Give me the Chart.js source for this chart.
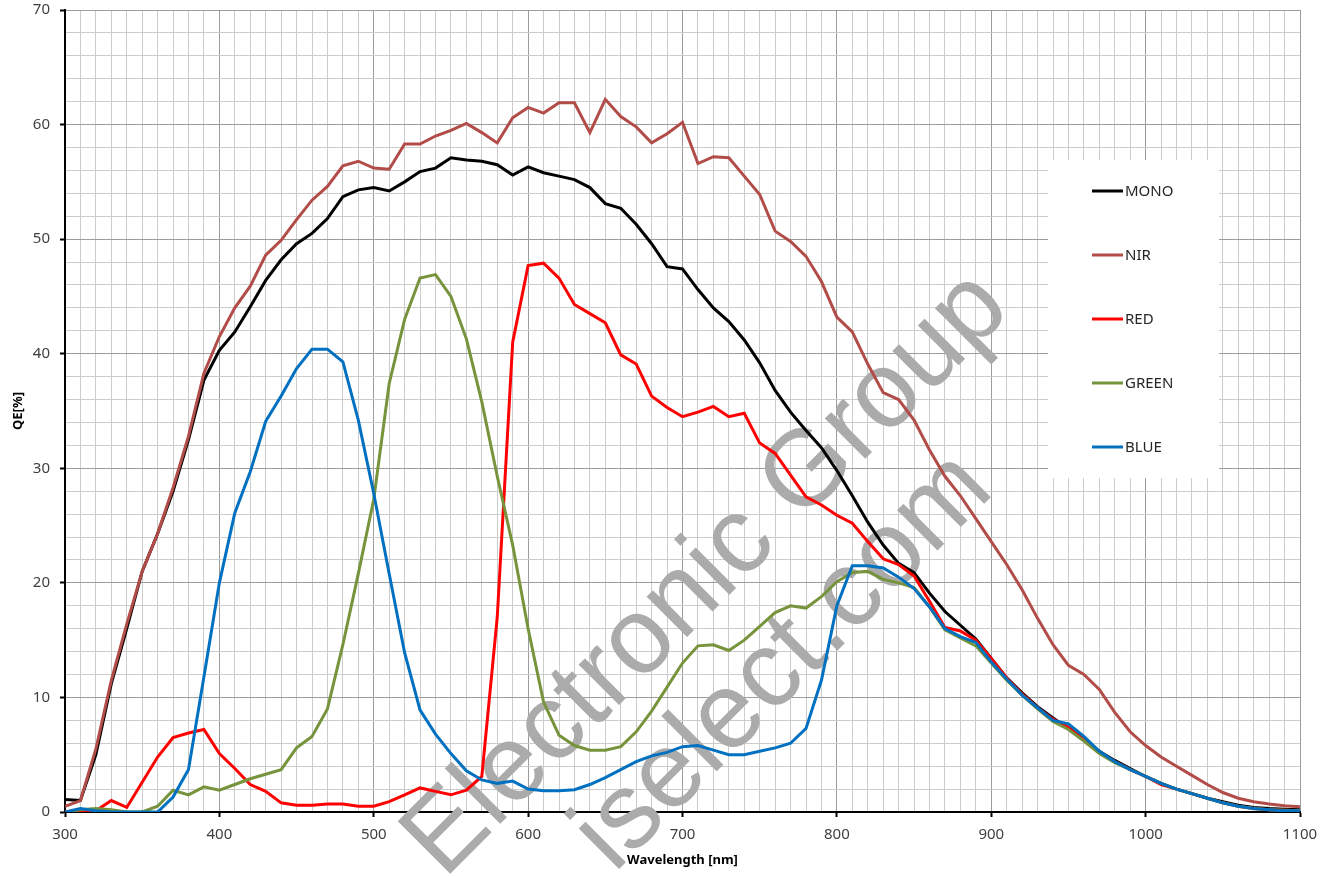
<!DOCTYPE html>
<html>
<head>
<meta charset="utf-8">
<script src="https://cdn.jsdelivr.net/npm/chart.js@4.4.0/dist/chart.umd.min.js"></script>
<style>
  body { margin: 0; background: #fff; }
  #wrap { width: 1338px; height: 876px; }
</style>
</head>
<body>
<div id="wrap"><canvas id="qe-chart" width="1338" height="876"></canvas></div>
<script>
// wavelength in nm, one point every 10 nm
const wavelengths = [
  300, 310, 320, 330, 340, 350, 360, 370, 380, 390,
  400, 410, 420, 430, 440, 450, 460, 470, 480, 490,
  500, 510, 520, 530, 540, 550, 560, 570, 580, 590,
  600, 610, 620, 630, 640, 650, 660, 670, 680, 690,
  700, 710, 720, 730, 740, 750, 760, 770, 780, 790,
  800, 810, 820, 830, 840, 850, 860, 870, 880, 890,
  900, 910, 920, 930, 940, 950, 960, 970, 980, 990,
  1000, 1010, 1020, 1030, 1040, 1050, 1060, 1070, 1080, 1090, 1100
];

const mono = [
  1.1, 1.0, 5.0, 11.2, 16.0, 21.0, 24.3, 28.0, 32.5, 37.7,
  40.3, 41.9, 44.1, 46.4, 48.2, 49.6, 50.5, 51.8, 53.7, 54.3,
  54.5, 54.2, 55.0, 55.9, 56.2, 57.1, 56.9, 56.8, 56.5, 55.6,
  56.3, 55.8, 55.5, 55.2, 54.5, 53.1, 52.7, 51.3, 49.6, 47.6,
  47.4, 45.6, 44.0, 42.8, 41.2, 39.2, 36.8, 34.9, 33.3, 31.8,
  29.8, 27.6, 25.3, 23.3, 21.7, 20.9, 19.1, 17.5, 16.3, 15.1,
  13.4, 11.7, 10.4, 9.2, 8.2, 7.3, 6.3, 5.3, 4.5, 3.8,
  3.1, 2.5, 2.0, 1.6, 1.2, 0.9, 0.6, 0.4, 0.3, 0.25, 0.2
];

const nir = [
  0.5, 1.0, 5.5, 11.5, 16.4, 21.0, 24.3, 28.3, 32.8, 38.3,
  41.5, 44.0, 45.9, 48.6, 49.9, 51.7, 53.4, 54.6, 56.4, 56.8,
  56.2, 56.1, 58.3, 58.3, 59.0, 59.5, 60.1, 59.3, 58.4, 60.6,
  61.5, 61.0, 61.9, 61.9, 59.3, 62.2, 60.7, 59.8, 58.4, 59.2,
  60.2, 56.6, 57.2, 57.1, 55.5, 53.9, 50.7, 49.8, 48.5, 46.3,
  43.2, 41.9, 39.1, 36.6, 36.0, 34.2, 31.6, 29.3, 27.6, 25.6,
  23.6, 21.6, 19.4, 16.9, 14.6, 12.8, 12.0, 10.7, 8.7, 7.0,
  5.8, 4.8, 4.0, 3.2, 2.4, 1.7, 1.2, 0.9, 0.7, 0.55, 0.45
];

const red = [
  0, 0, 0.1, 1.0, 0.4, 2.6, 4.8, 6.5, 6.9, 7.2,
  5.1, 3.8, 2.4, 1.8, 0.8, 0.6, 0.6, 0.7, 0.7, 0.5,
  0.5, 0.9, 1.5, 2.1, 1.8, 1.5, 1.9, 3.1, 17.0, 41.0,
  47.7, 47.9, 46.6, 44.3, 43.5, 42.7, 39.9, 39.1, 36.3, 35.3,
  34.5, 34.9, 35.4, 34.5, 34.8, 32.2, 31.3, 29.4, 27.5, 26.8,
  25.9, 25.2, 23.6, 22.1, 21.6, 20.6, 18.4, 16.1, 15.8, 15.0,
  13.4, 11.7, 10.3, 9.1, 8.1, 7.4, 6.4, 5.2, 4.4, 3.7,
  3.1, 2.4, 2.0, 1.6, 1.2, 0.8, 0.5, 0.3, 0.2, 0.15, 0.1
];

const green = [
  0, 0.2, 0.3, 0.2, 0, 0, 0.5, 1.9, 1.5, 2.2,
  1.9, 2.4, 2.9, 3.3, 3.7, 5.6, 6.6, 9.0, 14.6, 20.8,
  27.3, 37.4, 43.0, 46.6, 46.9, 45.0, 41.3, 35.8, 29.3, 23.3,
  16.0, 9.6, 6.7, 5.8, 5.4, 5.4, 5.7, 7.0, 8.8, 10.9,
  13.0, 14.5, 14.6, 14.1, 15.0, 16.2, 17.4, 18.0, 17.8, 18.8,
  20.1, 20.9, 21.0, 20.3, 20.0, 19.6, 17.9, 15.9, 15.2, 14.5,
  13.0, 11.5, 10.2, 9.0, 7.9, 7.2, 6.2, 5.1, 4.3, 3.7,
  3.1, 2.5, 2.0, 1.6, 1.2, 0.8, 0.5, 0.3, 0.2, 0.15, 0.1
];

const blue = [
  0, 0.3, 0.1, 0, 0, 0, 0, 1.3, 3.7, 11.8,
  20.0, 26.1, 29.7, 34.1, 36.3, 38.7, 40.4, 40.4, 39.3, 34.2,
  27.8, 20.8, 13.9, 8.9, 6.8, 5.1, 3.6, 2.8, 2.5, 2.7,
  2.0, 1.85, 1.85, 1.95, 2.4, 3.0, 3.7, 4.4, 4.9, 5.2,
  5.7, 5.8, 5.4, 5.0, 5.0, 5.3, 5.6, 6.0, 7.3, 11.5,
  18.0, 21.5, 21.5, 21.3, 20.5, 19.5, 17.9, 16.0, 15.3, 14.8,
  13.1, 11.6, 10.2, 9.1, 8.0, 7.7, 6.6, 5.3, 4.4, 3.7,
  3.1, 2.5, 2.0, 1.6, 1.2, 0.8, 0.5, 0.3, 0.2, 0.1, 0.1
];

const seriesNames = ["MONO", "NIR", "RED", "GREEN", "BLUE"];
const seriesValues = [mono, nir, red, green, blue];
const seriesColors = ["#000000", "#B24C48", "#FF0000", "#77933C", "#0070C0"];

const xMin = 300, xMax = 1100, xStep = 10, xLabelStep = 100;
const yMin = 0, yMax = 70, yStep = 2, yLabelStep = 10;

const majorGrid = "#9c9c9c";
const minorGrid = "#cccccc";
const tickFont = { family: "'Noto Sans', sans-serif", size: 15 };
const titleFont = { family: "'Noto Sans', sans-serif", size: 13, weight: "bold" };

function isMajor(value, step) {
  return Math.abs(value / step - Math.round(value / step)) < 1e-6;
}

// legend in a white box inside the plot + watermark text
const overlay = {
  id: "overlay",
  beforeDatasetsDraw(chart) {
    const ctx = chart.ctx;
    ctx.save();

    ctx.fillStyle = "#ffffff";
    ctx.fillRect(1048, 160, 171, 318);

    ctx.font = "15px 'Noto Sans', sans-serif";
    ctx.textBaseline = "middle";
    ctx.textAlign = "left";
    seriesNames.forEach((name, i) => {
      const y = 191 + i * 64;
      ctx.strokeStyle = seriesColors[i];
      ctx.lineWidth = 3;
      ctx.beginPath();
      ctx.moveTo(1092, y);
      ctx.lineTo(1123, y);
      ctx.stroke();
      ctx.fillStyle = "#262626";
      ctx.fillText(name, 1125, y + 1);
    });

    ctx.fillStyle = "#ababab";
    ctx.font = "108px 'Liberation Sans', Arial, sans-serif";
    ctx.textBaseline = "alphabetic";
    ctx.translate(444, 880);
    ctx.rotate(-Math.PI / 4);
    ctx.fillText("Electronic Group", 0, 0);
    ctx.restore();

    ctx.save();
    ctx.fillStyle = "#ababab";
    ctx.font = "108px 'Liberation Sans', Arial, sans-serif";
    ctx.translate(614, 874);
    ctx.rotate(-Math.PI / 4);
    ctx.fillText("iselect.com", 0, 0);
    ctx.restore();
  }
};

const datasets = seriesNames.map((name, i) => ({
  label: name,
  data: seriesValues[i].map((v, j) => ({ x: wavelengths[j], y: v })),
  borderColor: seriesColors[i],
  backgroundColor: seriesColors[i],
  borderWidth: 3,
  pointRadius: 0,
  tension: 0,
  fill: false,
  order: seriesNames.length - i
}));

const ctx = document.getElementById("qe-chart").getContext("2d");
const chart = new Chart(ctx, {
  type: "line",
  data: { datasets },
  plugins: [overlay],
  options: {
    responsive: false,
    animation: false,
    layout: { padding: { left: 0, right: 38, top: 10, bottom: 0 } },
    plugins: {
      legend: { display: false },
      tooltip: { enabled: false }
    },
    scales: {
      x: {
        type: "linear",
        min: xMin,
        max: xMax,
        afterFit: (scale) => {
          scale.height = 64;
          scale.paddingLeft = 0;
          scale.paddingRight = 0;
        },
        ticks: {
          stepSize: xStep,
          autoSkip: false,
          maxRotation: 0,
          padding: 9,
          color: "#404040",
          font: tickFont,
          callback: (v) => (isMajor(v, xLabelStep) ? v : "")
        },
        grid: {
          color: (c) => (isMajor(c.tick.value, xLabelStep) ? majorGrid : minorGrid),
          lineWidth: 1,
          tickLength: 5,
          tickWidth: 2,
          tickColor: (c) => (isMajor(c.tick.value, xLabelStep) ? "#000" : "rgba(0,0,0,0)")
        },
        border: { color: "#000", width: 2 },
        title: {
          display: true,
          text: "Wavelength [nm]",
          color: "#000",
          font: titleFont,
          padding: { top: 8, bottom: 8 }
        }
      },
      y: {
        min: yMin,
        max: yMax,
        afterFit: (scale) => {
          scale.width = 65;
          scale.paddingTop = 0;
          scale.paddingBottom = 0;
        },
        ticks: {
          stepSize: yStep,
          autoSkip: false,
          padding: 10,
          color: "#404040",
          font: tickFont,
          callback: (v) => (isMajor(v, yLabelStep) ? v : "")
        },
        grid: {
          color: (c) => (isMajor(c.tick.value, yLabelStep) ? majorGrid : minorGrid),
          lineWidth: 1,
          tickLength: 5,
          tickWidth: 2,
          tickColor: (c) => (isMajor(c.tick.value, yLabelStep) ? "#000" : "rgba(0,0,0,0)")
        },
        border: { color: "#000", width: 2 },
        title: {
          display: true,
          text: "QE[%]",
          color: "#000",
          font: titleFont,
          padding: { top: 10, bottom: 10 }
        }
      }
    }
  }
});
</script>
</body>
</html>
